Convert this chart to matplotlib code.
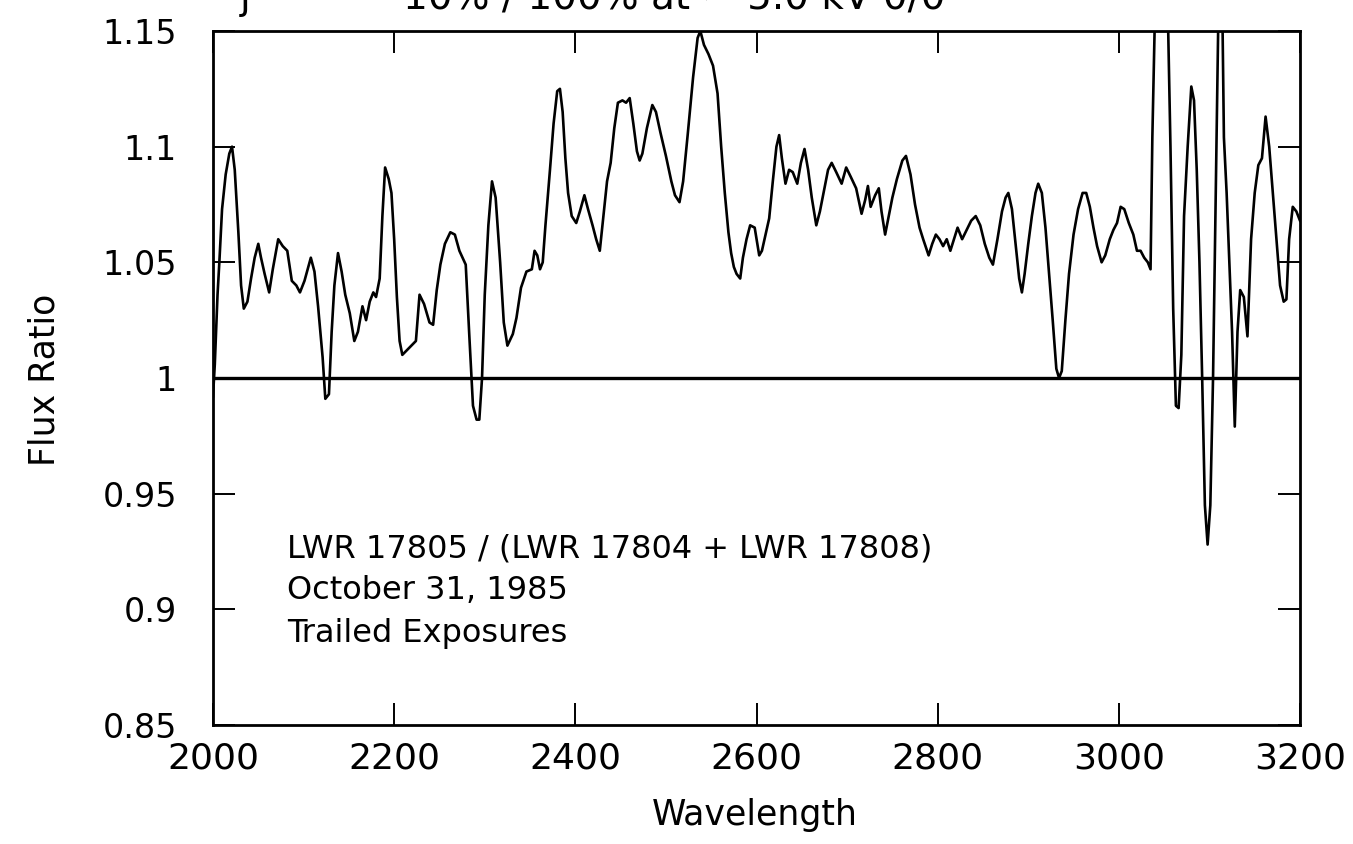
import matplotlib
matplotlib.use("Agg")
import matplotlib.pyplot as plt
import numpy as np

# flux ratio (wavelength in Angstrom)
wavelength = [
    2000, 2002, 2005, 2007, 2010, 2014, 2018, 2021, 2024, 2028, 2031, 2034, 2038, 2042, 2046, 2050,
    2053, 2057, 2062, 2066, 2072, 2077, 2082, 2087, 2092, 2096, 2101, 2108, 2112, 2116, 2121, 2124,
    2128, 2131, 2134, 2138, 2142, 2146, 2151, 2156, 2160, 2165, 2169, 2173, 2177, 2180, 2184, 2187,
    2190, 2194, 2197, 2200, 2203, 2206, 2209, 2214, 2219, 2224, 2228, 2233, 2239, 2243, 2247, 2251,
    2256, 2262, 2267, 2272, 2279, 2283, 2287, 2291, 2294, 2297, 2300, 2304, 2308, 2312, 2317, 2321,
    2325, 2331, 2335, 2340, 2346, 2352, 2355, 2358, 2361, 2364, 2367, 2372, 2376, 2380, 2383, 2386,
    2389, 2392, 2396, 2401, 2405, 2410, 2414, 2419, 2423, 2427, 2431, 2435, 2439, 2443, 2447, 2452,
    2456, 2460, 2464, 2468, 2471, 2474, 2479, 2485, 2489, 2494, 2500, 2506, 2510, 2515, 2519, 2524,
    2530, 2535, 2538, 2542, 2547, 2552, 2557, 2561, 2565, 2569, 2572, 2575, 2578, 2582, 2585, 2589,
    2593, 2598, 2603, 2606, 2610, 2614, 2618, 2622, 2625, 2628, 2632, 2636, 2640, 2645, 2649, 2653,
    2657, 2661, 2666, 2670, 2675, 2679, 2683, 2688, 2694, 2699, 2704, 2710, 2716, 2720, 2723, 2726,
    2731, 2735, 2738, 2742, 2746, 2750, 2755, 2761, 2765, 2770, 2775, 2780, 2784, 2790, 2794, 2798,
    2802, 2806, 2810, 2814, 2818, 2822, 2827, 2832, 2837, 2842, 2847, 2852, 2857, 2861, 2866, 2871,
    2875, 2878, 2882, 2886, 2890, 2893, 2896, 2900, 2904, 2908, 2911, 2915, 2919, 2923, 2927, 2931,
    2934, 2937, 2941, 2945, 2950, 2955, 2960, 2964, 2968, 2972, 2976, 2981, 2985, 2990, 2994, 2998,
    3002, 3006, 3011, 3016, 3020, 3024, 3028, 3032, 3035, 3037, 3040, 3045, 3050, 3054, 3057, 3060,
    3063, 3066, 3069, 3072, 3076, 3080, 3083, 3086, 3089, 3092, 3095, 3098, 3101, 3104, 3107, 3110,
    3113, 3116, 3119, 3122, 3125, 3128, 3131, 3134, 3138, 3142, 3146, 3150, 3154, 3158, 3162, 3166,
    3170, 3174, 3178, 3182, 3185, 3188, 3192, 3196, 3200,
]
ratio = [
    0.992, 1.006, 1.036, 1.050, 1.073, 1.088, 1.097, 1.100, 1.090, 1.063, 1.040, 1.030, 1.033, 1.043, 1.052, 1.058,
    1.052, 1.045, 1.037, 1.047, 1.060, 1.057, 1.055, 1.042, 1.040, 1.037, 1.042, 1.052, 1.046, 1.031, 1.009, 0.991,
    0.993, 1.020, 1.040, 1.054, 1.046, 1.036, 1.028, 1.016, 1.020, 1.031, 1.025, 1.033, 1.037, 1.035, 1.043, 1.070,
    1.091, 1.086, 1.080, 1.060, 1.035, 1.016, 1.010, 1.012, 1.014, 1.016, 1.036, 1.032, 1.024, 1.023, 1.038, 1.049,
    1.058, 1.063, 1.062, 1.055, 1.049, 1.018, 0.988, 0.982, 0.982, 1.000, 1.036, 1.066, 1.085, 1.078, 1.050, 1.024,
    1.014, 1.019, 1.026, 1.039, 1.046, 1.047, 1.055, 1.053, 1.047, 1.050, 1.066, 1.090, 1.110, 1.124, 1.125, 1.115,
    1.095, 1.080, 1.070, 1.067, 1.072, 1.079, 1.073, 1.066, 1.060, 1.055, 1.070, 1.085, 1.093, 1.108, 1.119, 1.120,
    1.119, 1.121, 1.110, 1.098, 1.094, 1.097, 1.108, 1.118, 1.115, 1.106, 1.096, 1.085, 1.079, 1.076, 1.085, 1.105,
    1.130, 1.147, 1.150, 1.144, 1.140, 1.135, 1.123, 1.100, 1.080, 1.063, 1.054, 1.048, 1.045, 1.043, 1.052, 1.060,
    1.066, 1.065, 1.053, 1.055, 1.062, 1.069, 1.085, 1.100, 1.105, 1.095, 1.084, 1.090, 1.089, 1.084, 1.093, 1.099,
    1.090, 1.078, 1.066, 1.072, 1.082, 1.090, 1.093, 1.089, 1.084, 1.091, 1.087, 1.082, 1.071, 1.077, 1.083, 1.074,
    1.079, 1.082, 1.072, 1.062, 1.070, 1.078, 1.086, 1.094, 1.096, 1.088, 1.075, 1.065, 1.060, 1.053, 1.058, 1.062,
    1.060, 1.057, 1.060, 1.055, 1.060, 1.065, 1.060, 1.064, 1.068, 1.070, 1.066, 1.058, 1.052, 1.049, 1.060, 1.072,
    1.078, 1.080, 1.073, 1.058, 1.043, 1.037, 1.045, 1.058, 1.070, 1.080, 1.084, 1.080, 1.065, 1.045, 1.025, 1.004,
    1.000, 1.003, 1.025, 1.045, 1.062, 1.073, 1.080, 1.080, 1.074, 1.065, 1.057, 1.050, 1.053, 1.060, 1.064, 1.067,
    1.074, 1.073, 1.067, 1.062, 1.055, 1.055, 1.052, 1.050, 1.047, 1.104, 1.160, 1.200, 1.200, 1.160, 1.100, 1.030,
    0.988, 0.987, 1.010, 1.070, 1.100, 1.126, 1.120, 1.090, 1.050, 1.000, 0.945, 0.928, 0.945, 1.000, 1.080, 1.160,
    1.200, 1.104, 1.080, 1.050, 1.020, 0.979, 1.020, 1.038, 1.035, 1.018, 1.060, 1.080, 1.092, 1.095, 1.113, 1.100,
    1.080, 1.060, 1.040, 1.033, 1.034, 1.060, 1.074, 1.072, 1.068,
]

xticks = [2000, 2200, 2400, 2600, 2800, 3000, 3200]
yticks = [0.85, 0.9, 0.95, 1.0, 1.05, 1.1, 1.15]
ytick_labels = ["0.85", "0.9", "0.95", "1", "1.05", "1.1", "1.15"]
notes = ["LWR 17805 / (LWR 17804 + LWR 17808)", "October 31, 1985", "Trailed Exposures"]

plt.rcParams['font.family'] = ['DejaVu Sans']

fig = plt.figure(figsize=(13.53, 8.44), dpi=100)
ax = fig.add_axes([213 / 1353, 119 / 844, 1087 / 1353, 694 / 844])

ax.plot(wavelength, ratio, color='black', lw=1.9)
ax.axhline(1.0, color='black', lw=2.4)

ax.set_xlim(2000, 3200)
ax.set_ylim(0.85, 1.15)
ax.set_xticks(xticks)
ax.set_yticks(yticks)
ax.set_yticklabels(ytick_labels)
ax.tick_params(direction='in', length=16, width=1.4, top=True, right=True,
               labelsize=24, colors='black')
ax.tick_params(axis='y', pad=26)
ax.tick_params(axis='x', pad=12, labelsize=26)
for s in ax.spines.values():
    s.set_linewidth(2.0)

for i, line in enumerate(notes):
    ax.text(0.068, 0.242 - i * 0.061, line, transform=ax.transAxes,
            fontsize=23, va='baseline', ha='left')

fig.text(755 / 1353, 1 - 815 / 844, "Wavelength", ha='center', va='center', fontsize=25)
fig.text(45 / 1353, 1 - 380 / 844, "Flux Ratio", ha='center', va='center',
         rotation=90, fontsize=25)

# title is cut off at the top edge of the scan
fig.text(403 / 1353, 1 - 9 / 844, "10% / 100% at ~ 5.0 kV 0/0", ha='left',
         va='baseline', fontsize=28)
fig.text(240 / 1353, 1 - 9 / 844, "j", ha='left', va='baseline', fontsize=28)

fig.savefig("out.png", dpi=100)
